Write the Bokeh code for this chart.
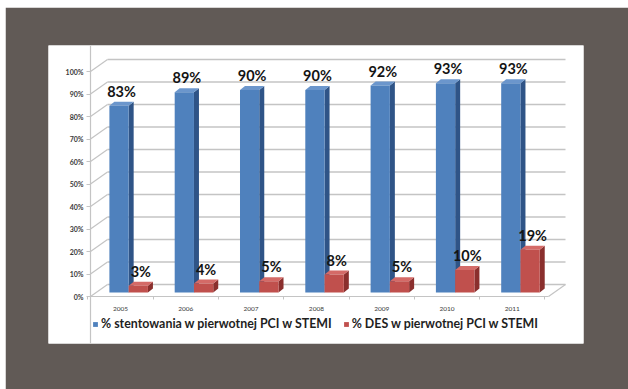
from bokeh.plotting import figure
from bokeh.models import (Range1d, LinearAxis, FixedTicker, Legend, LegendItem,
                          ColumnDataSource)
from bokeh.core.properties import value
from bokeh.embed import file_html
from bokeh.resources import INLINE

# ---------------- data ----------------
years = ["2005", "2006", "2007", "2008", "2009", "2010", "2011"]
stent_pct = [83, 89, 90, 90, 92, 93, 93]
des_pct = [3, 4, 5, 8, 5, 10, 19]
y_ticks = [0, 10, 20, 30, 40, 50, 60, 70, 80, 90, 100]
series_names = ["% stentowania w pierwotnej PCI w STEMI",
                "% DES w pierwotnej PCI w STEMI"]

# ---------------- geometry / style ----------------
PXX, PXY = 65.3, 2.25                 # px per category unit, px per percent
DX, DY = 17 / PXX, 12 / PXY           # 3D depth of the chart box
AXIS_X = -30 / PXX                    # front-left axis position
FLOOR_R = 428 / PXX                   # front-right floor corner
BASE = 4 / PXY                        # bars stand slightly behind the front edge
BDX, BDY = 5 / PXX, 4 / PXY           # depth of each bar
BLUE = ("#4f81bd", "#2f5487", "#6b96cc")
RED = ("#c0504d", "#8a2f2d", "#d46a67")
GRID = "#c4c4c4"
FONT = "Lato"

idx = list(range(len(years)))

p = figure(width=623, height=382, output_backend="svg", toolbar_location=None,
           x_range=Range1d(-72 / PXX, 463 / PXX),
           y_range=Range1d(-47 / PXY, 251 / PXY),
           x_axis_location=None, y_axis_location=None,
           min_border_left=43, min_border_right=45,
           min_border_top=38, min_border_bottom=46,
           background_fill_color="white", border_fill_color="#615a56",
           outline_line_color=None,
           styles={"margin-left": "5px", "margin-top": "7px"})
p.grid.visible = False

# back wall gridlines and diagonal side lines
bx0 = AXIS_X + DX
bx1 = FLOOR_R + DX
p.segment(x0=[bx0] * len(y_ticks), y0=[v + DY for v in y_ticks],
          x1=[bx1] * len(y_ticks), y1=[v + DY for v in y_ticks],
          line_color=GRID, line_width=1.4)
p.segment(x0=[AXIS_X] * len(y_ticks), y0=y_ticks,
          x1=[bx0] * len(y_ticks), y1=[v + DY for v in y_ticks],
          line_color=GRID, line_width=1.2)
# floor right edge
p.segment(x0=[FLOOR_R], y0=[0], x1=[bx1], y1=[DY], line_color=GRID, line_width=1.2)


def draw_bars(lefts, rights, vals, cols):
    tops = [BASE + v for v in vals]
    src = ColumnDataSource(dict(left=lefts, right=rights, bottom=[BASE] * len(vals), top=tops))
    side_xs = [[r, r + BDX, r + BDX, r] for r in rights]
    side_ys = [[BASE, BASE + BDY, t + BDY, t] for t in tops]
    top_xs = [[l, l + BDX, r + BDX, r] for l, r in zip(lefts, rights)]
    top_ys = [[t, t + BDY, t + BDY, t] for t in tops]
    p.patches(side_xs, side_ys, fill_color=cols[1], line_color=None)
    p.patches(top_xs, top_ys, fill_color=cols[2], line_color=None)
    return p.quad(left="left", right="right", bottom="bottom", top="top",
                  source=src, fill_color=cols[0], line_color=None)


blue_l = [i - 0.17 for i in idx]
blue_r = [i + 0.125 for i in idx]
red_l = [i + 0.125 for i in idx]
red_r = [i + 0.42 for i in idx]

r_blue = draw_bars(blue_l, blue_r, stent_pct, BLUE)
r_red = draw_bars(red_l, red_r, des_pct, RED)

# data labels
for lefts, rights, vals in ((blue_l, blue_r, stent_pct), (red_l, red_r, des_pct)):
    p.text(x=[(l + r + BDX) / 2 for l, r in zip(lefts, rights)],
           y=[BASE + v + BDY for v in vals],
           text=[f"{v}%" for v in vals],
           text_align="center", text_baseline="bottom", y_offset=-2,
           text_font=value(FONT), text_font_style="bold",
           text_font_size="14.5px", text_color="#141414")

# y axis (front-left edge)
yax = LinearAxis(fixed_location=AXIS_X,
                 ticker=FixedTicker(ticks=y_ticks, minor_ticks=[]),
                 major_label_overrides={v: f"{v}%" for v in y_ticks},
                 axis_line_color=GRID, axis_line_width=1.2,
                 major_tick_line_color=GRID, major_tick_out=4, major_tick_in=0,
                 minor_tick_line_color=None,
                 major_label_standoff=3,
                 major_label_text_font=FONT, major_label_text_font_size="7px",
                 major_label_text_font_style="bold",
                 major_label_text_color="#3a3a3a")
p.add_layout(yax, "left")

# x axis (front floor edge)
xax = LinearAxis(fixed_location=0, bounds=(AXIS_X, FLOOR_R),
                 ticker=FixedTicker(ticks=idx, minor_ticks=[i + 0.5 for i in range(-1, len(years))]),
                 major_label_overrides={i: y for i, y in zip(idx, years)},
                 axis_line_color=GRID, axis_line_width=1.2,
                 major_tick_line_color=None,
                 minor_tick_line_color=GRID, minor_tick_out=3, minor_tick_in=0,
                 major_label_standoff=4,
                 major_label_text_font=FONT, major_label_text_font_size="6.5px",
                 major_label_text_color="#3a3a3a")
p.add_layout(xax, "below")

legend = Legend(items=[LegendItem(label=series_names[0], renderers=[r_blue]),
                       LegendItem(label=series_names[1], renderers=[r_red])],
                orientation="horizontal", location=(44, 12),
                glyph_width=6, glyph_height=6, label_standoff=3, spacing=11,
                padding=0, margin=0, label_height=12,
                label_text_font=FONT, label_text_font_style="bold",
                label_text_font_size="12.4px", label_text_color="#1f1f1f",
                background_fill_alpha=0, border_line_color=None)
p.add_layout(legend, "center")

open("out.html", "w").write(file_html(p, INLINE))
